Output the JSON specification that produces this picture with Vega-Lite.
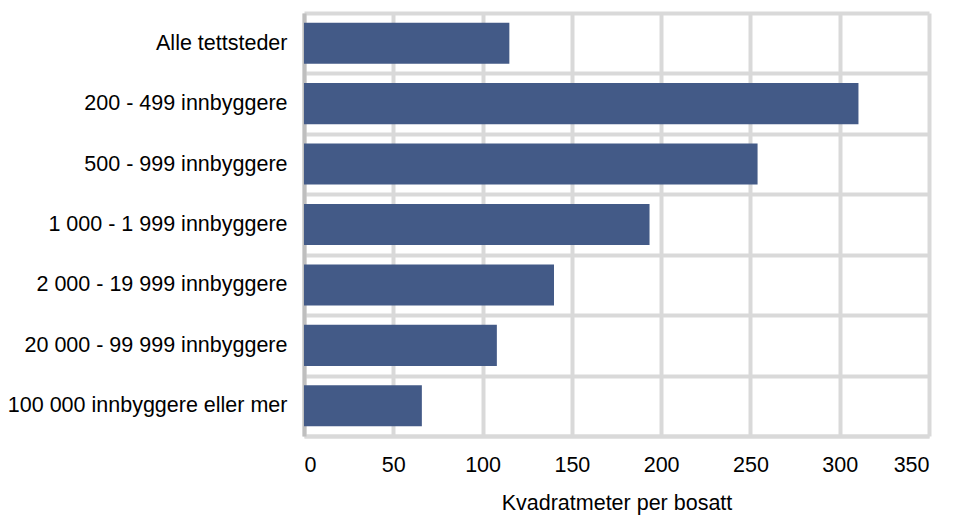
{
  "$schema": "https://vega.github.io/schema/vega-lite/v6.json",
  "autosize": {"type": "none"},
  "width": 625,
  "height": 423,
  "padding": {"left": 304, "top": 13, "right": 26, "bottom": 79},
  "background": "white",
  "config": {
    "view": {"stroke": null},
    "font": "Liberation Sans",
    "axis": {"labelFont": "Liberation Sans", "titleFont": "Liberation Sans", "labelColor": "#000000", "titleColor": "#000000", "labelFontSize": 21.5, "titleFontSize": 21.5, "titleFontWeight": "normal", "ticks": false, "gridColor": "#d9d9d9", "gridWidth": 4}
  },
  "data": {
    "values": [
      {"kategori": "Alle tettsteder", "verdi": 115},
      {"kategori": "200 - 499 innbyggere", "verdi": 310.5},
      {"kategori": "500 - 999 innbyggere", "verdi": 254},
      {"kategori": "1 000 - 1 999 innbyggere", "verdi": 193.5},
      {"kategori": "2 000 - 19 999 innbyggere", "verdi": 140},
      {"kategori": "20 000 - 99 999 innbyggere", "verdi": 108},
      {"kategori": "100 000 innbyggere eller mer", "verdi": 66}
    ]
  },
  "mark": {"type": "bar", "color": "#435a87", "height": {"band": 0.68}},
  "encoding": {
    "y": {
      "field": "kategori",
      "type": "nominal",
      "sort": null,
      "scale": {"paddingInner": 0, "paddingOuter": 0},
      "axis": {"title": null, "grid": true, "tickBand": "extent", "domainColor": "#bfbfbf", "domainWidth": 4, "labelPadding": 17, "labelLimit": 320}
    },
    "x": {
      "field": "verdi",
      "type": "quantitative",
      "scale": {"domain": [0, 350], "nice": false},
      "axis": {"title": "Kvadratmeter per bosatt", "values": [0, 50, 100, 150, 200, 250, 300, 350], "grid": true, "domainColor": "#d9d9d9", "domainWidth": 4, "labelPadding": 18, "titlePadding": 17}
    }
  }
}
